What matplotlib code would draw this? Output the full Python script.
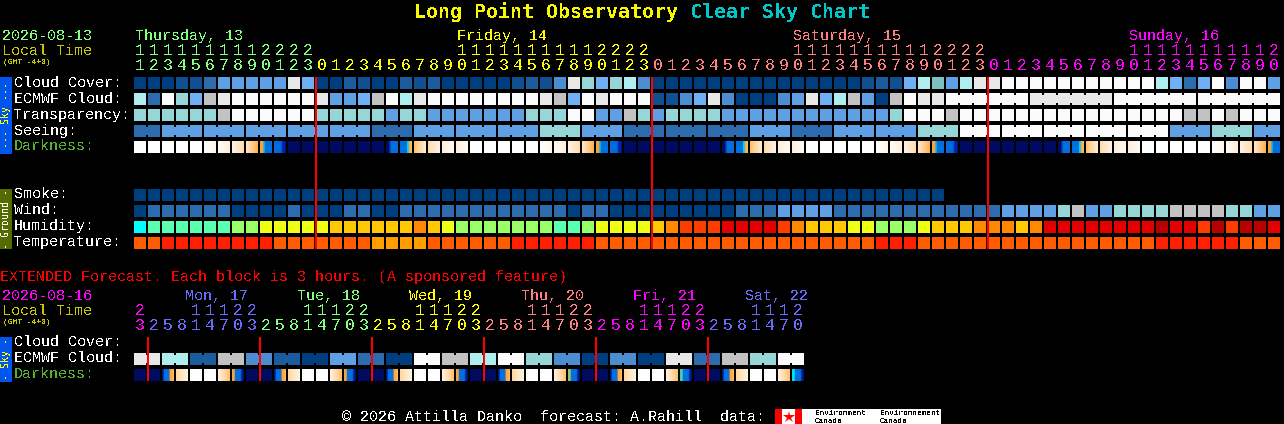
import numpy as np
import matplotlib
matplotlib.use('Agg')
import matplotlib.pyplot as plt
from matplotlib.patches import Rectangle
from matplotlib.colors import to_rgb

plt.rcParams['text.antialiased'] = False

# cloud / transparency / seeing / wind share one colour scale
SKY_COLORS = ['#003f7f', '#0f4f92', '#1b5c9f', '#2c6cae', '#4c8cd0', '#5f9fe3', '#6fb0f5',
              '#7fbfbf', '#96d6d6', '#aeeeee', '#c2c2c2', '#e8e8e8', '#fbfbfb']
HUMIDITY_COLORS = ['#00ffff', '#5affb0', '#99ff66', '#eeff14', '#ffc800', '#ff8800',
                   '#ff3c00', '#e40000', '#b80000']
TEMPERATURE_COLORS = ['#ff2000', '#ff5c00', '#ff9c00']

CLOUD = [0, 0, 0, 1, 1, 3, 5, 5, 5, 5, 5, 11, 6,
         0, 0, 2, 1, 0, 0, 2, 1, 2, 0, 0, 0, 0, 0, 1, 2, 1, 4, 11, 8, 6, 8, 9, 4,
         0, 0, 0, 0, 0, 0, 0, 0, 0, 0, 0, 0, 0, 0, 0, 1, 2, 1, 6, 9, 7, 5, 9, 11,
         11, 12, 12, 12, 12, 12, 12, 12, 12, 12, 12, 12, 9, 6, 3, 6, 12, 4, 12, 12, 5]
ECMWF = [9, 3, 12, 8, 6, 10, 11, 12, 12, 12, 12, 12, 12,
         11, 5, 5, 6, 10, 12, 9, 11, 12, 12, 12, 12, 12, 12, 12, 12, 11, 10, 6, 12, 11, 12, 12, 12,
         1, 1, 4, 6, 11, 4, 0, 0, 0, 4, 5, 11, 6, 9, 10, 5, 0, 10, 12, 11, 11, 12, 12, 12,
         12, 12, 12, 11, 11, 11, 11, 11, 11, 12, 12, 12, 12, 12, 12, 12, 12, 12, 12, 12, 12]
ECMWF_RUNS = [(58, 63), (64, 69), (70, 75), (76, 81)]
TRANSPARENCY = [8, 8, 8, 8, 8, 8, 10, 12, 12, 12, 12, 12, 12,
                8, 8, 8, 8, 8, 5, 8, 8, 5, 5, 5, 5, 5, 5, 5, 8, 8, 8, 12, 12, 5, 5, 10, 8,
                5, 8, 8, 8, 8, 5, 5, 5, 5, 5, 5, 5, 5, 5, 5, 5, 5, 8, 12, 12, 12, 10, 12, 12,
                12, 12, 12, 12, 12, 12, 12, 12, 12, 12, 12, 12, 12, 12, 10, 10, 12, 10, 12, 12, 12]
SEEING_BLOCKS = [3, 5, 5, 5, 5, 5, 3, 5, 5, 5, 8, 5, 3, 3, 3, 5, 3, 5, 5, 8, 12, 12, 12, 12, 12, 5, 8, 5]
SEEING_LENGTHS = [2, 3, 3, 3, 3, 3, 3, 3, 3, 3, 3, 3, 3, 3, 3, 3, 3, 3, 3, 3, 3, 3, 3, 3, 3, 3, 3, 2]
SMOKE = [0, 0, 0, 0, 0, 0, 0, 0, 0, 0, 0, 0, 0, 0, 0, 0, 0, 0, 0, 0, 0, 0, 0, 0, 0, 0, 0, 0, 0,
         0, 0, 0, 0, 0, 0, 0, 0, 0, 0, 0, 0, 0, 0, 0, 0, 0, 0, 0, 0, 0, 0, 0, 0, 0, 0, 0, 0, 0]
WIND = [0, 3, 3, 3, 3, 3, 3, 0, 0, 0, 0, 3, 0,
        0, 0, 3, 3, 0, 0, 3, 3, 3, 3, 3, 3, 3, 3, 3, 3, 3, 3, 0, 3, 3, 0, 0, 0,
        0, 0, 0, 0, 0, 0, 3, 3, 3, 5, 5, 5, 5, 3, 3, 3, 3, 3, 3, 3, 3, 3, 3, 3,
        3, 5, 5, 5, 5, 8, 10, 5, 5, 8, 8, 8, 8, 10, 10, 10, 10, 8, 8, 5, 5]
HUMIDITY = [0, 1, 1, 1, 1, 1, 1, 2, 2, 3, 3, 3, 3,
            3, 4, 4, 4, 4, 4, 4, 5, 4, 3, 2, 2, 2, 2, 2, 2, 2, 1, 1, 2, 3, 3, 3, 3,
            4, 5, 6, 6, 6, 7, 7, 7, 7, 6, 5, 4, 4, 4, 3, 3, 2, 2, 2, 3, 4, 4, 4, 5,
            5, 5, 4, 5, 7, 7, 7, 7, 7, 7, 7, 7, 8, 7, 7, 6, 8, 6, 8, 8, 7]
TEMPERATURE = [1, 1, 0, 0, 0, 0, 0, 0, 0, 0, 1, 1, 1,
               1, 1, 1, 1, 2, 2, 2, 2, 1, 1, 1, 1, 1, 1, 0, 0, 0, 0, 0, 0, 1, 1, 1, 1,
               1, 1, 1, 1, 1, 1, 1, 1, 1, 1, 1, 1, 1, 1, 1, 1, 0, 0, 0, 1, 1, 1, 1, 1,
               1, 1, 1, 1, 1, 1, 1, 1, 1, 1, 1, 1, 0, 0, 0, 0, 0, 0, 1, 1, 1]
# darkness, one phase name per block
DARKNESS = ['day', 'day', 'day', 'day', 'day', 'pale', 'cream', 'peach', 'dusk', 'sunset', 'twilight',
            'night', 'night', 'night', 'night', 'night', 'night', 'night', 'dawn', 'sunrise', 'peach2', 'cream2', 'pale2', 'pale2',
            'day', 'day', 'day', 'day', 'day', 'pale', 'cream', 'peach', 'dusk', 'sunset', 'twilight',
            'night', 'night', 'night', 'night', 'night', 'night', 'night', 'dawn', 'sunrise', 'peach2', 'cream2', 'pale2', 'pale2',
            'day', 'day', 'day', 'day', 'day', 'pale', 'cream', 'peach', 'dusk', 'sunset', 'twilight',
            'night', 'night', 'night', 'night', 'night', 'night', 'night', 'dawn', 'sunrise', 'peach2', 'cream2', 'pale2', 'pale2',
            'day', 'day', 'day', 'day', 'day', 'pale', 'cream', 'peach', 'dusk', 'sunset']
PHASES = {
    'day': [(0, '#ffffff'), (1, '#ffffff')],
    'pale': [(0, '#ffffff'), (1, '#fff6ea')],
    'cream': [(0, '#fffaf2'), (1, '#ffeeda')],
    'peach': [(0, '#fff2e0'), (1, '#ffdcae')],
    'dusk': [(0, '#ffe8c8'), (1, '#ffb050')],
    'sunset': [(0, '#ffa030'), (.22, '#ffa030'), (.26, '#30c8c0'), (.4, '#00a0f0'), (.45, '#0070e0'), (1, '#0070e0')],
    'twilight': [(0, '#0070e0'), (.6, '#0064dc'), (.7, '#0030b0'), (1, '#001090')],
    'night': [(0, '#000a60'), (1, '#000a60')],
    'dawn': [(0, '#000a60'), (.2, '#000a60'), (.3, '#0030b0'), (.45, '#0070e0'), (1, '#0070e0')],
    'sunrise': [(0, '#0070e0'), (.55, '#0070e0'), (.6, '#00d0f0'), (.72, '#00e0f0'), (.76, '#ffa030'), (1, '#ffc070')],
    'peach2': [(0, '#ffc070'), (1, '#ffeeda')],
    'cream2': [(0, '#ffdcae'), (1, '#fff2e0')],
    'pale2': [(0, '#ffeeda'), (1, '#fffaf2')],
    'edawn': [(0, '#000a60'), (.15, '#0040b0'), (.2, '#0070e0'), (.6, '#0070e0'), (.65, '#ffa030'), (1, '#ffb860')],
    'epeach': [(0, '#ffd8a0'), (1, '#fff4e6')],
    'edusk': [(0, '#fff4e6'), (1, '#ffc070')],
}

EXT_ECMWF = [11, 9, 2, 10, 4, 2, 0, 5, 3, 0, 12, 10, 9, 12, 8, 4, 0, 4, 0, 11, 3, 10, 8, 12]
EXT_STRIPES = ['#ffa030', '#ffa030', '#ffa030', '#a0c060', '#40d0b0', '#00e0f0']
EXT_DARK_CELLS = ['night', 'night', 'edawn', 'epeach', 'day', 'day', 'edusk', 'esunset']

HOURS = [11, 12, 13, 14, 15, 16, 17, 18, 19, 20, 21, 22, 23,
         0, 1, 2, 3, 4, 5, 6, 7, 8, 9, 10, 11, 12, 13, 14, 15, 16, 17, 18, 19, 20, 21, 22, 23,
         0, 1, 2, 3, 4, 5, 6, 7, 8, 9, 10, 11, 12, 13, 14, 15, 16, 17, 18, 19, 20, 21, 22, 23,
         0, 1, 2, 3, 4, 5, 6, 7, 8, 9, 10, 11, 12, 13, 14, 15, 16, 17, 18, 19, 20]
DAYS = [('Thursday, 13', 0, '#80ff80'), ('Friday, 14', 23, '#ffff00'),
        ('Saturday, 15', 47, '#ff8080'), ('Sunday, 16', 71, '#ff00ff')]
MIDNIGHTS = [13, 37, 61]
EXT_HOURS = [23, 2, 5, 8, 11, 14, 17, 20, 23, 2, 5, 8, 11, 14, 17, 20, 23, 2, 5, 8, 11, 14, 17, 20, 23,
             2, 5, 8, 11, 14, 17, 20, 23, 2, 5, 8, 11, 14, 17, 20, 23, 2, 5, 8, 11, 14, 17, 20]
EXT_DAYS = [('Mon, 17', 4, '#6a6aff'), ('Tue, 18', 12, '#80ff80'), ('Wed, 19', 20, '#ffff00'),
            ('Thu, 20', 28, '#ff8080'), ('Fri, 21', 36, '#ff00ff'), ('Sat, 22', 44, '#6a6aff')]
EXT_MIDNIGHTS = [1, 9, 17, 25, 33, 41]

X0 = 134
STEP = 14
CELL = 12
MONO = 'Liberation Mono'
OLIVE = '#c8c800'
DIGIT_PX = 16.5

fig = plt.figure(figsize=(12.84, 4.24), dpi=100, facecolor='black')
ax = fig.add_axes([0, 0, 1, 1])
ax.set_axis_off()


def txt(x, y, s, color='white', px=15, **kw):
    # y is the text baseline
    ax.text(x, y, s, color=color, fontsize=px * 0.72, family=MONO,
            va='baseline', ha=kw.pop('ha', 'left'), **kw)


def rect(x, y, w, h, color, z=2):
    ax.add_patch(Rectangle((x, y), w, h, facecolor=color, edgecolor='none', antialiased=False, zorder=z))


def cells(row_y, values, palette):
    for i, v in enumerate(values):
        rect(X0 + STEP * i, row_y, CELL, CELL, palette[v])


def join(row_y, first, last, color):
    # a block of several hours: the cells touch, with small notches top and bottom
    for i in range(first, last):
        rect(X0 + STEP * i + CELL, row_y + 2, STEP - CELL, CELL - 4, color)


def gradient(x, y, stops):
    pos = [p for p, _ in stops]
    rgb = np.array([to_rgb(c) for _, c in stops])
    t = (np.arange(CELL) + 0.5) / CELL
    img = np.stack([np.interp(t, pos, rgb[:, k]) for k in range(3)], axis=1)[None, :, :]
    ax.imshow(img, extent=[x, x + CELL, y + CELL, y], interpolation='nearest', aspect='auto', zorder=2)


# title
ax.text(414, 18, 'Long Point Observatory', color='#f8f800', fontsize=14.4, family='DejaVu Sans Mono', weight='bold')
ax.text(690, 18, 'Clear Sky Chart', color='#00c8c8', fontsize=14.4, family='DejaVu Sans Mono', weight='bold')

# header of the hourly part
txt(2, 40, '2026-08-13', '#80ff80')
txt(2, 55, 'Local Time', OLIVE)
txt(3, 64, '(GMT -4+0)', OLIVE, px=8)
for name, col, color in DAYS:
    txt(X0 + STEP * col + 1, 40, name, color)
for i, h in enumerate(HOURS):
    if i < MIDNIGHTS[0]:
        c = DAYS[0][2]
    elif i < MIDNIGHTS[1]:
        c = DAYS[1][2]
    elif i < MIDNIGHTS[2]:
        c = DAYS[2][2]
    else:
        c = DAYS[3][2]
    x = X0 + STEP * i + CELL / 2
    if h >= 10:
        txt(x, 55, str(h // 10), c, px=DIGIT_PX, ha='center')
    txt(x, 70, str(h % 10), c, px=DIGIT_PX, ha='center')

# sky block
rect(0, 77, 12, 77, '#0055ee')
ax.text(6, 115, '--- Sky ---', color='#ffff00', fontsize=7.2, family='DejaVu Sans Mono', rotation=90, ha='center', va='center')
for y, s, c in [(87, 'Cloud Cover:', 'white'), (103, 'ECMWF Cloud:', 'white'), (119, 'Transparency:', 'white'),
                (135, 'Seeing:', 'white'), (150, 'Darkness:', '#55b030'),
                (198, 'Smoke:', 'white'), (214, 'Wind:', 'white'), (230, 'Humidity:', 'white'), (246, 'Temperature:', 'white')]:
    txt(14, y, s, c)

cells(77, CLOUD, SKY_COLORS)
cells(93, ECMWF, SKY_COLORS)
for a, b in ECMWF_RUNS:
    join(93, a, b, SKY_COLORS[ECMWF[a]])
cells(109, TRANSPARENCY, SKY_COLORS)
start = 0
for v, n in zip(SEEING_BLOCKS, SEEING_LENGTHS):
    for i in range(start, start + n):
        rect(X0 + STEP * i, 125, CELL, CELL, SKY_COLORS[v])
    join(125, start, start + n - 1, SKY_COLORS[v])
    start += n
for i, phase in enumerate(DARKNESS):
    gradient(X0 + STEP * i, 141, PHASES[phase])

# ground block
rect(0, 189, 12, 60, '#556b00')
ax.text(6, 219, '- Ground -', color='white', fontsize=7.2, family='DejaVu Sans Mono', rotation=90, ha='center', va='center')
cells(189, SMOKE, SKY_COLORS)
cells(205, WIND, SKY_COLORS)
cells(221, HUMIDITY, HUMIDITY_COLORS)
cells(237, TEMPERATURE, TEMPERATURE_COLORS)

for col in MIDNIGHTS:
    rect(X0 + STEP * col - 1, 77, 2, 172, '#ff0000', z=3)

# extended forecast
txt(0, 281, 'EXTENDED Forecast. Each block is 3 hours. (A sponsored feature)', '#ff0000')
txt(2, 300, '2026-08-16', '#ff00ff')
txt(2, 315, 'Local Time', OLIVE)
txt(3, 324, '(GMT -4+0)', OLIVE, px=8)
for name, col, color in EXT_DAYS:
    txt(X0 + STEP * col - 5, 300, name, color)
for i, h in enumerate(EXT_HOURS):
    c = '#ff00ff'
    for day, mid in zip(EXT_DAYS, EXT_MIDNIGHTS):
        if i >= mid:
            c = day[2]
    x = X0 + STEP * i + CELL / 2
    if h >= 10:
        txt(x, 315, str(h // 10), c, px=DIGIT_PX, ha='center')
    txt(x, 330, str(h % 10), c, px=DIGIT_PX, ha='center')

rect(0, 337, 12, 45, '#0055ee')
ax.text(6, 359, '- Sky -', color='#ffff00', fontsize=7.2, family='DejaVu Sans Mono', rotation=90, ha='center', va='center')
txt(14, 346, 'Cloud Cover:')
txt(14, 362, 'ECMWF Cloud:')
txt(14, 378, 'Darkness:', '#55b030')

for k, v in enumerate(EXT_ECMWF):
    a = 2 * k
    rect(X0 + STEP * a, 353, CELL, CELL, SKY_COLORS[v])
    rect(X0 + STEP * (a + 1), 353, CELL, CELL, SKY_COLORS[v])
    join(353, a, a + 1, SKY_COLORS[v])

for i in range(48):
    phase = EXT_DARK_CELLS[i % 8]
    if phase == 'esunset':
        stripe = EXT_STRIPES[i // 8]
        stops = [(0, stripe), (.2, stripe), (.24, '#0070e0'), (.7, '#0070e0'), (.78, '#0030b0'), (1, '#000a60')]
    else:
        stops = PHASES[phase]
    gradient(X0 + STEP * i, 369, stops)

for col in EXT_MIDNIGHTS:
    rect(X0 + STEP * col - 1, 337, 2, 44, '#ff0000', z=3)

# footer
txt(342, 421, '\u00a9 2026 Attilla Danko  forecast: A.Rahill  data:')
rect(775, 409, 27, 15, '#ffffff')
rect(775, 409, 7, 15, '#ff0000')
rect(795, 409, 7, 15, '#ff0000')
ax.plot([788.5], [416.5], marker='*', color='#ff0000', markersize=9, markeredgewidth=0, zorder=3)
rect(802, 409, 139, 15, '#ffffff')
for x, s in [(815, 'Environment'), (880, 'Environnement')]:
    txt(x, 415, s, 'black', px=7.8)
    txt(x, 423, 'Canada', 'black', px=7.8)

ax.set_xlim(0, 1284)
ax.set_ylim(424, 0)
fig.savefig('out.png', dpi=100, facecolor='black')
